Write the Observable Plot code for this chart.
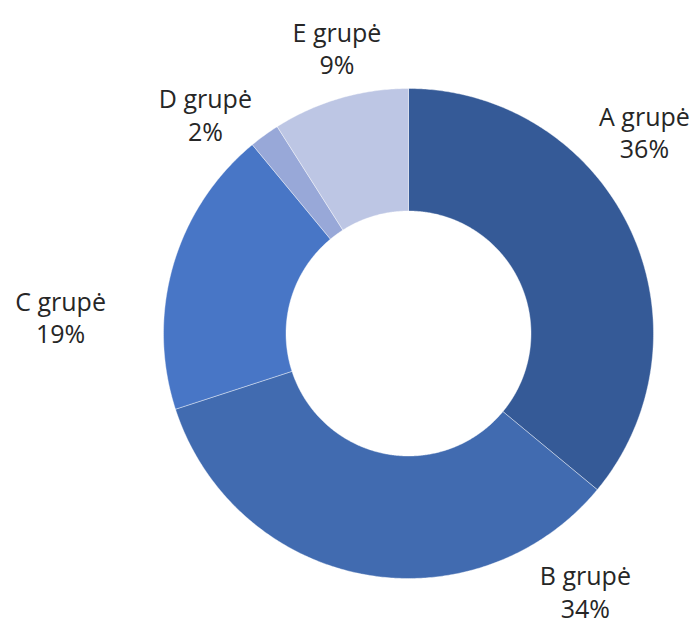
<!DOCTYPE html>
<html><head><meta charset="utf-8">
<script src="https://cdn.jsdelivr.net/npm/d3@7"></script>
<script src="https://cdn.jsdelivr.net/npm/@observablehq/plot@0.6"></script>
<style>body{margin:0;background:#fff}</style>
</head><body><div id="chart"></div>
<script>
const groups = ["A grupė", "B grupė", "C grupė", "D grupė", "E grupė"];
const shares = [36, 34, 19, 2, 9];
const colors = ["#355a97", "#416bb0", "#4876c6", "#98a8d8", "#bdc6e4"];

// layout: label anchors in ring units (outer radius = 1)
const labelLayout = [
  {x: 0.963, y: 0.824},
  {x: 0.722, y: -1.052},
  {x: -1.420, y: 0.069},
  {x: -0.829, y: 0.896},
  {x: -0.292, y: 1.167}
];
const innerRatio = 0.5;

const total = d3.sum(shares);
const polys = [];
let acc = 0;
shares.forEach((v, i) => {
  const a0 = acc / total * 2 * Math.PI;
  acc += v;
  const a1 = acc / total * 2 * Math.PI;
  const n = Math.max(2, Math.ceil((a1 - a0) / (Math.PI / 360)));
  const pts = [];
  for (let k = 0; k <= n; k++) {
    const a = a0 + (a1 - a0) * k / n;
    pts.push({g: groups[i], x: Math.sin(a), y: Math.cos(a)});
  }
  for (let k = n; k >= 0; k--) {
    const a = a0 + (a1 - a0) * k / n;
    pts.push({g: groups[i], x: innerRatio * Math.sin(a), y: innerRatio * Math.cos(a)});
  }
  pts.push({...pts[0]});
  polys.push(...pts);
});

const labels = groups.map((g, i) => ({
  g, text: `${g}\n${shares[i]}%`, x: labelLayout[i].x, y: labelLayout[i].y
}));

const chart = Plot.plot({
  width: 696,
  height: 627,
  margin: 0,
  x: {domain: [-1, 1], range: [163, 653], axis: null},
  y: {domain: [-1, 1], range: [578, 88], axis: null},
  color: {domain: groups, range: colors},
  style: {fontFamily: "'Open Sans', sans-serif", background: "#fff"},
  marks: [
    Plot.line(polys, {x: "x", y: "y", z: "g", fill: "g", stroke: "#ffffff", strokeWidth: 0.8, strokeOpacity: 0.5, curve: "linear"}),
    Plot.text(labels, {x: "x", y: "y", text: "text", fontSize: 25, lineHeight: 1.3, fill: "#262626", textAnchor: "middle"})
  ]
});
document.getElementById("chart").appendChild(chart);
</script>
</body></html>
